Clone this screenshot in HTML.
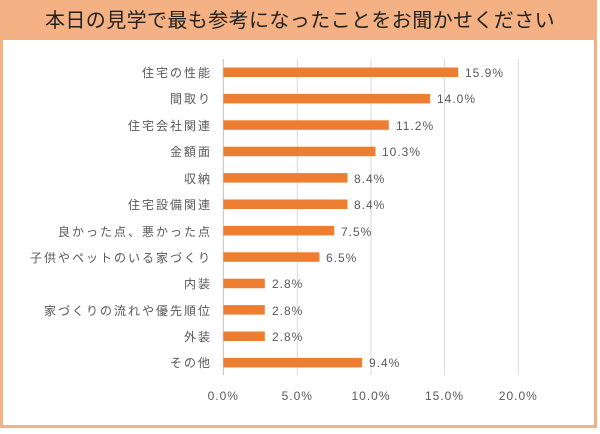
<!DOCTYPE html>
<html><head><meta charset="utf-8"><style>
body{margin:0;width:600px;height:429px;overflow:hidden;background:#fff}
</style></head><body>
<svg width="600" height="429" xmlns="http://www.w3.org/2000/svg" font-family="Liberation Sans, Noto Sans CJK JP, sans-serif">
<rect x="1.5" y="1.5" width="594" height="425" fill="#fff" stroke="#F4B183" stroke-width="3"/>
<rect x="0" y="0" width="597" height="40" fill="#F4B183"/>
<text x="300" y="27" font-size="20" letter-spacing="0.4" text-anchor="middle" fill="#222">本日の見学で最も参考になったことをお聞かせください</text>
<g stroke="#d9d9d9" stroke-width="1">
<line x1="297.3" y1="59" x2="297.3" y2="375"/>
<line x1="371" y1="59" x2="371" y2="375"/>
<line x1="444.5" y1="59" x2="444.5" y2="375"/>
<line x1="518.3" y1="59" x2="518.3" y2="375"/>
<line x1="223.3" y1="59" x2="223.3" y2="375" stroke="#bfbfbf"/>
</g>
<g font-size="12" fill="#595959">
<g text-anchor="end" letter-spacing="2">
<text x="212" y="77">住宅の性能</text>
<text x="212" y="103">間取り</text>
<text x="212" y="130">住宅会社関連</text>
<text x="212" y="156">金額面</text>
<text x="212" y="183">収納</text>
<text x="212" y="209">住宅設備関連</text>
<text x="212" y="236">良かった点、悪かった点</text>
<text x="212" y="262">子供やペットのいる家づくり</text>
<text x="212" y="288">内装</text>
<text x="212" y="315">家づくりの流れや優先順位</text>
<text x="212" y="341">外装</text>
<text x="212" y="367">その他</text>
</g>
<g fill="#ED7D31">
<rect x="223.5" y="67.5" width="234.7" height="9.5"/>
<rect x="223.5" y="93.9" width="206.6" height="9.5"/>
<rect x="223.5" y="120.3" width="165.3" height="9.5"/>
<rect x="223.5" y="146.7" width="152" height="9.5"/>
<rect x="223.5" y="173.1" width="124" height="9.5"/>
<rect x="223.5" y="199.5" width="124" height="9.5"/>
<rect x="223.5" y="225.9" width="110.7" height="9.5"/>
<rect x="223.5" y="252.3" width="95.9" height="9.5"/>
<rect x="223.5" y="278.7" width="41.3" height="9.5"/>
<rect x="223.5" y="305.1" width="41.3" height="9.5"/>
<rect x="223.5" y="331.5" width="41.3" height="9.5"/>
<rect x="223.5" y="357.9" width="138.7" height="9.5"/>
</g>
<g letter-spacing="1">
<text x="465" y="77">15.9%</text>
<text x="437" y="103">14.0%</text>
<text x="396" y="130">11.2%</text>
<text x="382" y="156">10.3%</text>
<text x="354" y="183">8.4%</text>
<text x="354" y="209">8.4%</text>
<text x="341" y="236">7.5%</text>
<text x="326" y="262">6.5%</text>
<text x="272" y="288">2.8%</text>
<text x="272" y="315">2.8%</text>
<text x="272" y="341">2.8%</text>
<text x="369" y="367">9.4%</text>
</g>
<g text-anchor="middle" letter-spacing="1">
<text x="223.3" y="400">0.0%</text>
<text x="297.3" y="400">5.0%</text>
<text x="371" y="400">10.0%</text>
<text x="444.5" y="400">15.0%</text>
<text x="518.3" y="400">20.0%</text>
</g>
</g>
</svg>
</body></html>
